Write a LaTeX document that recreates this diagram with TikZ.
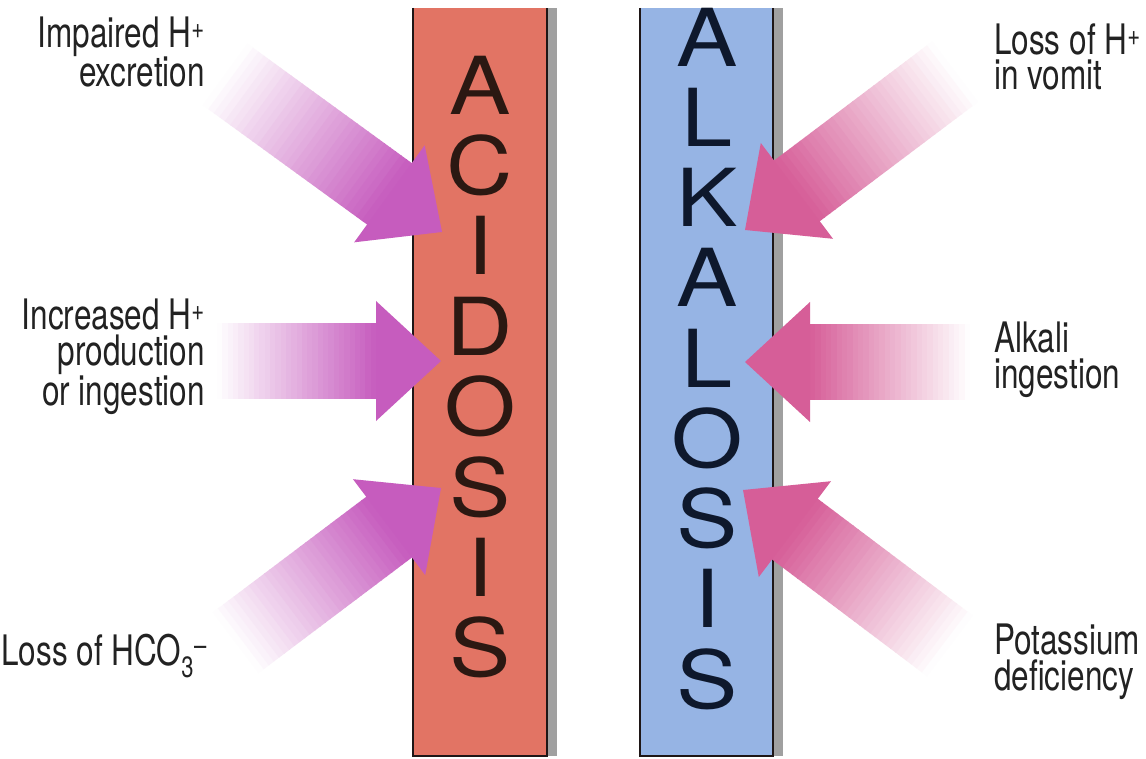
\documentclass[tikz,border=0pt]{standalone}
\usepackage{fontspec}
\setmainfont{TeX Gyre Heros}
\newfontfamily\lblfont[FakeStretch=0.75]{TeX Gyre Heros}
\newfontfamily\barfont[FakeStretch=1.15]{TeX Gyre Heros}
\definecolor{barred}{RGB}{226,116,100}
\definecolor{barblue}{RGB}{150,180,228}
\definecolor{redink}{RGB}{43,24,18}
\definecolor{blueink}{RGB}{14,24,44}
\definecolor{arrL}{RGB}{198,92,190}
\definecolor{arrR}{RGB}{214,94,152}
\definecolor{shadowgray}{RGB}{160,160,160}
\definecolor{txt}{RGB}{34,34,34}
\definecolor{edge}{RGB}{30,22,22}
% #1 tip coordinate, #2 direction angle, #3 total length, #4 colour
\newcommand\fatarrow[4]{%
  \begin{scope}[shift={(#1)}, rotate=#2]
    \foreach \i in {0,...,29}{
      \pgfmathsetmacro\ua{-#3+\i*(#3-65)/30}
      \pgfmathsetmacro\ub{-#3+(\i+1)*(#3-65)/30+1}
      \pgfmathtruncatemacro\pct{100*(\i+0.5)/30}
      \fill[#4!\pct!white] (\ua,-38) -- (\ub,-38) -- (\ub,38) -- (\ua,38) -- cycle;
    }
    \fill[#4] (-65,-38) -- (-65,-60) -- (0,0) -- (-65,60) -- (-65,38) -- cycle;
  \end{scope}}
\tikzset{
  barbox/.style={inner sep=0pt, outer sep=0pt, anchor=north west, minimum width=134pt, minimum height=748pt},
  acidletter/.style={inner sep=0pt, text=redink, font=\barfont\fontsize{80}{80}\selectfont},
  alkletter/.style={inner sep=0pt, text=blueink, font=\barfont\fontsize{80}{80}\selectfont},
  lbl/.style={inner sep=0pt, text=txt, font=\lblfont\fontsize{42}{35.5}\selectfont},
  lblL/.style={lbl, anchor=base east, align=right},
  lblR/.style={lbl, anchor=base west, align=left},
  baredge/.style={line width=2.5pt, edge}
}
\begin{document}
\begin{tikzpicture}[x=1pt,y=-1pt]
\useasboundingbox (0,0) rectangle (1146,759);
\fill[white] (0,0) rectangle (1146,759);

% bars
\fill[shadowgray] (547,8) rectangle (557,756);
\node[barbox, fill=barred] (acid) at (413,8) {};
\draw[baredge] (acid.north west) -- (acid.south west) -- (acid.south east) -- (acid.north east);
\fill[shadowgray] (773,8) rectangle (783,756);
\node[barbox, fill=barblue, minimum width=133pt] (alk) at (640,8) {};
\draw[baredge] (alk.north west) -- (alk.south west) -- (alk.south east) -- (alk.north east);

\foreach \l [count=\k] in {A,C,I,D,O,S,I,S}
  \node[acidletter] (ac\k) at (480,{85+80.4*(\k-1)}) {\l};
\foreach \l [count=\k] in {A,L,K,A,L,O,S,I,S}
  \node[alkletter] (al\k) at (707,{37+80.25*(\k-1)}) {\l};

% arrow tips
\coordinate (t1) at (442,232);
\coordinate (t2) at (441,361);
\coordinate (t3) at (441,488);
\coordinate (t4) at (745,230);
\coordinate (t5) at (745,362);
\coordinate (t6) at (743,490);
\fatarrow{t1}{-36}{268}{arrL}
\fatarrow{t2}{0}{224}{arrL}
\fatarrow{t3}{37}{257}{arrL}
\fatarrow{t4}{217}{263}{arrR}
\fatarrow{t5}{180}{225}{arrR}
\fatarrow{t6}{143}{259}{arrR}

% labels (base anchor = baseline of the last line)
\node[lblL] (l1) at (205,87) {Impaired H\textsuperscript{+}\\excretion};
\node[lblL] (l2) at (205,405) {Increased H\textsuperscript{+}\\production\\or ingestion};
\node[lblL] (l3) at (207,665) {Loss of HCO\textsubscript{3}\textsuperscript{\textendash}};
\node[lblR] (r1) at (994,90) {Loss of H\textsuperscript{+}\\in vomit};
\node[lblR] (r2) at (994,388) {Alkali\\ingestion};
\node[lblR] (r3) at (994,690) {Potassium\\deficiency};
\end{tikzpicture}
\end{document}
